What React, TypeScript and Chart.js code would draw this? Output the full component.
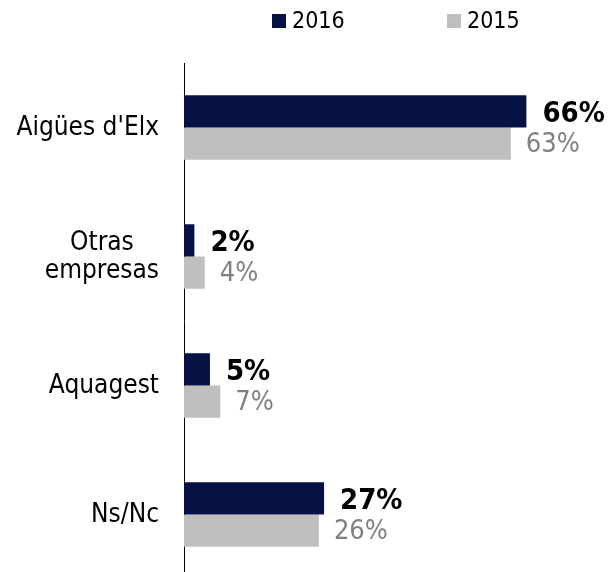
import React, { useEffect, useRef } from "react";
import { Chart, registerables } from "chart.js";

Chart.register(...registerables);

const categories: (string | string[])[] = ["Aigües d'Elx", ["Otras", "empresas"], "Aquagest", "Ns/Nc"];
const seriesNames = ["2016", "2015"];
const values2016 = [66, 2, 5, 27];
const values2015 = [63, 4, 7, 26];

const FONT = '"DejaVu Sans Condensed", "DejaVu Sans", sans-serif';
const NAVY = "#061244";
const GREY = "#BFBFBF";

const catLabelPlugin = {
  id: "catLabels",
  afterDraw(chart: any) {
    const ctx = chart.ctx;
    const y = chart.scales.y;
    ctx.save();
    ctx.font = `26px ${FONT}`;
    ctx.fillStyle = "#000";
    ctx.textBaseline = "middle";
    ctx.textAlign = "center";
    const right = chart.chartArea.left - 25;
    const lh = 28;
    categories.forEach((lab, i) => {
      const lines = Array.isArray(lab) ? lab : [lab];
      const w = Math.max(...lines.map((l) => ctx.measureText(l).width));
      const cx = right - w / 2;
      const cy = y.getPixelForValue(i) + 1;
      lines.forEach((l, j) => {
        ctx.fillText(l, cx, cy + (j - (lines.length - 1) / 2) * lh);
      });
    });
    ctx.restore();
  },
};

const valueLabelPlugin = {
  id: "valueLabels",
  afterDatasetsDraw(chart: any) {
    const ctx = chart.ctx;
    ctx.save();
    ctx.textBaseline = "middle";
    ctx.textAlign = "left";
    chart.data.datasets.forEach((ds: any, di: number) => {
      const meta = chart.getDatasetMeta(di);
      ctx.font = di === 0 ? `bold 29px ${FONT}` : `27px ${FONT}`;
      ctx.fillStyle = di === 0 ? "#000000" : "#808080";
      meta.data.forEach((bar: any, i: number) => {
        ctx.fillText(`${ds.data[i]}%`, bar.x + (di === 0 ? 16 : 15), bar.y + (di === 0 ? 3 : 1));
      });
    });
    ctx.restore();
  },
};

const legendPlugin = {
  id: "customLegend",
  afterDraw(chart: any) {
    const ctx = chart.ctx;
    const xs = [272, 447];
    ctx.save();
    ctx.font = `23px ${FONT}`;
    ctx.textBaseline = "middle";
    ctx.textAlign = "left";
    chart.data.datasets.forEach((ds: any, di: number) => {
      const x = xs[di];
      ctx.fillStyle = ds.backgroundColor;
      ctx.fillRect(x, 14, 14, 14);
      ctx.fillStyle = "#000";
      ctx.fillText(ds.label, x + 20, 22);
    });
    ctx.restore();
  },
};

export default function App() {
  const ref = useRef<HTMLCanvasElement | null>(null);
  useEffect(() => {
    if (!ref.current) return;
    const chart = new Chart(ref.current, {
      type: "bar",
      data: {
        labels: categories.map((c) => (Array.isArray(c) ? c.join(" ") : c)),
        datasets: [
          {
            label: seriesNames[0],
            data: values2016,
            backgroundColor: NAVY,
            borderWidth: 0,
            categoryPercentage: 0.5,
            barPercentage: 1,
          },
          {
            label: seriesNames[1],
            data: values2015,
            backgroundColor: GREY,
            borderWidth: 0,
            categoryPercentage: 0.5,
            barPercentage: 1,
          },
        ],
      },
      options: {
        indexAxis: "y",
        animation: false,
        responsive: false,
        layout: { padding: { top: 63, bottom: 1, left: 0, right: 11 } },
        plugins: {
          legend: { display: false },
          tooltip: { enabled: false },
        },
        scales: {
          x: { display: false, min: 0, max: 80 },
          y: {
            display: true,
            grid: { display: false },
            border: { display: true, color: "#000000", width: 1 },
            ticks: { display: false },
            afterFit(scale: any) {
              scale.width = 184;
            },
          },
        },
      },
      plugins: [catLabelPlugin, valueLabelPlugin, legendPlugin],
    });
    return () => chart.destroy();
  }, []);
  return (
    <div style={{ position: "fixed", left: 0, top: 0, width: 610, height: 580, background: "#fff" }}>
      <canvas ref={ref} width={610} height={580} style={{ display: "block" }} />
    </div>
  );
}
